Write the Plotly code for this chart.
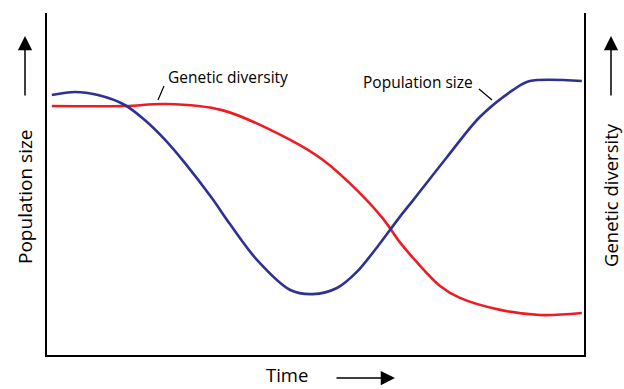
import plotly.graph_objects as go

# Time axis (arbitrary units, 0-100) and the two response curves (relative units, 0-100)
time_pop = [0.9, 5.2, 9.5, 14.5, 18.2, 22.0, 25.7, 30.7, 34.1, 39.1, 45.3, 49.5, 54.0,
            57.7, 61.5, 65.7, 68.2, 74.5, 80.6, 86.8, 89.9, 99.6]
population_size = [76.0, 76.9, 76.0, 73.1, 68.7, 62.9, 56.1, 45.9, 38.2, 27.8, 19.0, 17.8, 19.6,
                   24.3, 31.6, 40.4, 45.3, 57.9, 69.6, 77.5, 80.1, 80.1]

time_gen = [0.9, 14.5, 22.0, 32.6, 45.3, 51.4, 57.7, 62.6, 65.7, 68.5, 73.2,
            76.9, 84.4, 91.8, 99.6]
genetic_diversity = [72.8, 72.8, 73.4, 71.6, 62.9, 57.0, 48.2, 39.8, 33.0, 27.8, 20.2,
                     16.7, 13.2, 11.7, 12.3]

BLUE = "#2e3192"
RED = "#ed1c24"
FONT = "Open Sans"

# Plot area in pixels (figure is 624 x 389)
L, R, T, B = 47, 584, 13, 355
W, H = 624, 389


def px(x, y):
    """Pixel position -> paper coordinates."""
    return (x - L) / (R - L), (B - y) / (B - T)


fig = go.Figure()
fig.add_trace(go.Scatter(x=time_gen, y=genetic_diversity, mode="lines",
                         line=dict(color=RED, width=2.6, shape="spline", smoothing=1.0),
                         hoverinfo="skip"))
fig.add_trace(go.Scatter(x=time_pop, y=population_size, mode="lines",
                         line=dict(color=BLUE, width=2.6, shape="spline", smoothing=0.9),
                         hoverinfo="skip"))

annotations = []
shapes = []

# Curve labels with short leader lines
for text, (tx, ty), size, (x0, y0, x1, y1) in [
    ("Genetic diversity", (228, 77), 15.5, (164, 86, 158, 100)),
    ("Population size", (418, 82), 15.5, (479, 89, 492, 100)),
]:
    ax_, ay_ = px(tx, ty)
    annotations.append(dict(text=text, x=ax_, y=ay_, xref="paper", yref="paper",
                            showarrow=False, font=dict(family=FONT, size=size, color="black"),
                            xanchor="center", yanchor="middle"))
    a0 = px(x0, y0)
    a1 = px(x1, y1)
    shapes.append(dict(type="line", xref="paper", yref="paper",
                       x0=a0[0], y0=a0[1], x1=a1[0], y1=a1[1],
                       line=dict(color="black", width=1.2)))

# Axis titles
for text, (tx, ty), size, ang in [
    ("Population size", (25, 197), 19, -90),
    ("Genetic diversity", (610, 195), 18.5, -90),
    ("Time", (287, 374), 18.5, 0),
]:
    ax_, ay_ = px(tx, ty)
    annotations.append(dict(text=text, x=ax_, y=ay_, xref="paper", yref="paper",
                            showarrow=False, textangle=ang,
                            font=dict(family=FONT, size=size, color="black"),
                            xanchor="center", yanchor="middle"))

# Direction arrows next to the axis titles
for (hx, hy), (dx, dy) in [
    ((25, 36), (0, 61)),
    ((611, 36), (0, 61)),
    ((395, 378), (-60, 0)),
]:
    ax_, ay_ = px(hx, hy)
    annotations.append(dict(text="", x=ax_, y=ay_, xref="paper", yref="paper",
                            showarrow=True, ax=dx, ay=dy, arrowhead=2, arrowsize=1.9,
                            arrowwidth=1.5, arrowcolor="black"))

fig.update_layout(
    width=W, height=H,
    margin=dict(l=L, r=W - R, t=T, b=H - B, pad=0),
    paper_bgcolor="white", plot_bgcolor="white",
    showlegend=False,
    annotations=annotations,
    shapes=shapes,
    xaxis=dict(range=[0, 100], showgrid=False, zeroline=False, showticklabels=False,
               ticks="", showline=True, linecolor="black", linewidth=2, fixedrange=True),
    yaxis=dict(range=[0, 100], showgrid=False, zeroline=False, showticklabels=False,
               ticks="", showline=True, linecolor="black", linewidth=2, mirror=True,
               fixedrange=True),
)

fig.write_html("out.html", config={"displayModeBar": False})
